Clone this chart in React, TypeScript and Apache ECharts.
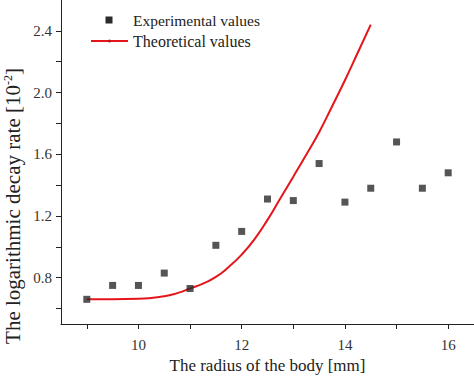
import React, { useEffect, useRef } from "react";
import * as echarts from "echarts";

const expX = [9, 9.5, 10, 10.5, 11, 11.5, 12, 12.5, 13, 13.5, 14, 14.5, 15, 15.5, 16];
const expY = [0.66, 0.75, 0.75, 0.83, 0.73, 1.01, 1.1, 1.31, 1.3, 1.54, 1.29, 1.38, 1.68, 1.38, 1.48];

const theoX = [9, 9.5, 10, 10.5, 10.75, 11, 11.25, 11.5, 11.75, 12, 12.25, 12.5, 12.75, 13, 13.25, 13.5, 13.75, 14, 14.25, 14.5];
const theoY = [0.66, 0.66, 0.663, 0.68, 0.7, 0.73, 0.762, 0.805, 0.87, 0.95, 1.05, 1.175, 1.315, 1.455, 1.597, 1.743, 1.91, 2.08, 2.26, 2.44];

const xTicks = [9, 10, 11, 12, 13, 14, 15, 16];
const xLabels = [10, 12, 14, 16];
const yTicks = [0.6, 0.8, 1.0, 1.2, 1.4, 1.6, 1.8, 2.0, 2.2, 2.4];
const yLabels = [0.8, 1.2, 1.6, 2.0, 2.4];

const expName = "Experimental values";
const theoName = "Theoretical values";
const xTitle = "The radius of the body [mm]";
const yTitle = "The logarithmic decay rate [10";
const ySup = "-2";

const FONT = "Liberation Serif";

export default function App() {
  const ref = useRef<HTMLDivElement>(null);
  useEffect(() => {
    if (!ref.current) return;
    const chart = echarts.init(ref.current, null, { renderer: "svg" });
    const axisText = { fontFamily: FONT, fontSize: 15, color: "#333" };
    chart.setOption({
      animation: false,
      grid: { left: 61, right: 0, top: 0, bottom: 48 },
      xAxis: {
        type: "value",
        min: 8.5,
        max: 16.5,
        name: xTitle,
        nameLocation: "middle",
        nameGap: 33,
        nameTextStyle: { fontFamily: FONT, fontSize: 17, color: "#222" },
        axisLine: { show: true, onZero: false, lineStyle: { color: "#222", width: 1 } },
        axisTick: { show: true, customValues: xTicks, length: 5, lineStyle: { color: "#222" } },
        axisLabel: { customValues: xLabels, margin: 13, ...axisText },
        splitLine: { show: false },
      },
      yAxis: {
        type: "value",
        min: 0.5,
        max: 2.6,
        axisLine: { show: true, onZero: false, lineStyle: { color: "#222", width: 1 } },
        axisTick: { show: true, customValues: yTicks, length: 5, lineStyle: { color: "#222" } },
        axisLabel: {
          customValues: yLabels,
          margin: 9,
          formatter: (v: number) => v.toFixed(1),
          ...axisText,
        },
        splitLine: { show: false },
      },
      series: [
        {
          name: theoName,
          type: "line",
          data: theoX.map((x, i) => [x, theoY[i]]),
          smooth: 0.5,
          showSymbol: false,
          lineStyle: { color: "#e4151b", width: 2 },
          z: 2,
        },
        {
          name: expName,
          type: "scatter",
          data: expX.map((x, i) => [x, expY[i]]),
          symbol: "rect",
          symbolSize: 7,
          itemStyle: { color: "#2b2b2b" },
          z: 3,
        },
      ],
      graphic: [
        {
          type: "text",
          x: 12.5,
          y: 206,
          rotation: Math.PI / 2,
          style: {
            text: yTitle + "{sup|" + ySup + "}]",
            font: `21px ${FONT}`,
            fill: "#222",
            align: "center",
            verticalAlign: "middle",
            rich: {
              sup: { fontFamily: FONT, fontSize: 12, fill: "#222", verticalAlign: "top", padding: [0, 0, 10, 0] },
            },
          },
        },
        {
          type: "rect",
          shape: { x: 105.5, y: 16.5, width: 7, height: 7 },
          style: { fill: "#2b2b2b" },
        },
        {
          type: "text",
          x: 133,
          y: 20,
          style: { text: expName, font: `15.5px ${FONT}`, fill: "#222", verticalAlign: "middle" },
        },
        {
          type: "line",
          shape: { x1: 91, y1: 41, x2: 128, y2: 41 },
          style: { stroke: "#e4151b", lineWidth: 2 },
        },
        {
          type: "circle",
          shape: { cx: 109.5, cy: 41, r: 1.5 },
          style: { fill: "#c01015" },
        },
        {
          type: "text",
          x: 133,
          y: 41,
          style: { text: theoName, font: `16px ${FONT}`, fill: "#222", verticalAlign: "middle" },
        },
      ],
    });
    return () => chart.dispose();
  }, []);
  return <div ref={ref} style={{ width: 474, height: 379, position: "absolute", left: 0, top: 0 }} />;
}
